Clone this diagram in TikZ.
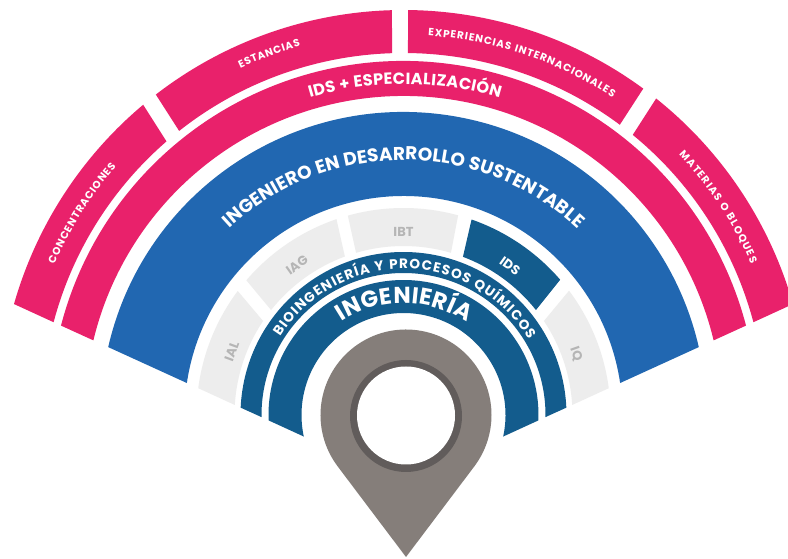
\documentclass[tikz,border=0pt]{standalone}
\usepackage{fontspec}
\setmainfont{Poppins}
\usetikzlibrary{decorations.text}
\definecolor{pinkc}{HTML}{E9216B}
\definecolor{bluec}{HTML}{2167B1}
\definecolor{tealc}{HTML}{135C8D}
\definecolor{grayc}{HTML}{EDEDED}
\definecolor{graytxt}{HTML}{B5B5B5}
\definecolor{pinc}{HTML}{857E7A}
\definecolor{pinring}{HTML}{615C5B}
% #1 colour, #2 outer r, #3 inner r, #4 #5 outer start/end angle, #6 #7 inner end/start angle
\newcommand{\ringpiece}[7]{%
  \fill[#1] (#4:#2pt) arc[start angle=#4,end angle=#5,radius=#2pt]
    -- (#6:#3pt) arc[start angle=#6,end angle=#7,radius=#3pt] -- cycle;}
% #1 size, #2 colour, #3 r, #4 start, #5 end, #6 text
\newcommand{\arclabel}[6]{%
  \path[decorate,decoration={text along path,text align={fit to path},
    text={|\fontsize{#1pt}{#1pt}\selectfont\bfseries\color{#2}|#6}}]
    (#4:#3pt) arc[start angle=#4,end angle=#5,radius=#3pt];}
\tikzset{ringtag/.style={font=\fontsize{13pt}{13pt}\selectfont\bfseries,inner sep=0pt}}
\begin{document}
\begin{tikzpicture}[x=1pt,y=1pt]
\clip (0,0) rectangle (788,559);
\fill[white] (0,0) rectangle (788,559);
\begin{scope}[shift={(403.5,144)}]
\coordinate (C) at (0,0);
% outer segmented ring
\ringpiece{pinkc}{405}{362}{164.1}{130.0}{130.9}{165.15}
\ringpiece{pinkc}{405}{362}{127.7}{91.63}{91.82}{128.3}
\ringpiece{pinkc}{405}{362}{89.36}{53.7}{53.3}{89.29}
\ringpiece{pinkc}{405}{362}{51.4}{15.9}{14.85}{50.7}
% second ring
\ringpiece{pinkc}{354}{319}{165.37}{14.63}{13.53}{166.47}
% blue ring
\ringpiece{bluec}{303}{219}{167.05}{12.95}{8.4}{171.6}
% programme segments
\ringpiece{grayc}{207}{169}{172.56}{143.2}{146.2}{176.6}
\ringpiece{grayc}{207}{169}{139.4}{108.9}{110.3}{141.6}
\ringpiece{grayc}{207}{169}{105.6}{74.7}{73.7}{106.3}
\ringpiece{tealc}{207}{169}{70.8}{40.8}{38.4}{69.4}
\ringpiece{grayc}{207}{169}{36.9}{7.44}{3.4}{33.8}
% inner rings
\ringpiece{tealc}{163}{142}{177.42}{2.58}{-0.85}{180.85}
\ringpiece{tealc}{135}{102}{182.3}{-2.3}{-12.2}{192.2}
% curved labels
\arclabel{10.4}{white}{380}{156.7}{139.1}{CONCENTRACIONES}
\arclabel{10.4}{white}{383}{115.2}{105.6}{ESTANCIAS}
\arclabel{10.4}{white}{380}{86.3}{56.6}{EXPERIENCIAS INTERNACIONALES}
\arclabel{10.4}{white}{379}{43.4}{23.5}{MATERIAS O BLOQUES}
\arclabel{16.2}{white}{331}{106.4}{73.1}{IDS + ESPECIALIZACIÓN}
\arclabel{18.5}{white}{255}{133}{47}{INGENIERO EN DESARROLLO SUSTENTABLE}
\arclabel{13.6}{white}{146}{147.7}{31}{BIOINGENIERÍA Y PROCESOS QUÍMICOS}
\arclabel{23}{white}{112}{123.5}{55.7}{INGENIERÍA}
% segment labels
\node[ringtag,text=graytxt,rotate=69.8] (ial) at (159.8:183pt) {IAL};
\node[ringtag,text=graytxt,rotate=35.4] (iag) at (125.4:184pt) {IAG};
\node[ringtag,text=graytxt] (ibt) at (90:183pt) {IBT};
\node[ringtag,text=white,rotate=-35.6] (ids) at (54.4:183pt) {IDS};
\node[ringtag,text=graytxt,rotate=-70.5] (iq) at (19.5:183pt) {IQ};
\end{scope}
% pin
\fill[pinc] (406,2) -- ([shift={(406,144)}]217:85.5pt)
  arc[start angle=217,end angle=-37,radius=85.5pt] -- cycle;
\fill[pinring] (406,143) circle[radius=56pt];
\fill[white] (406,143.5) circle[radius=49pt];
\end{tikzpicture}
\end{document}
